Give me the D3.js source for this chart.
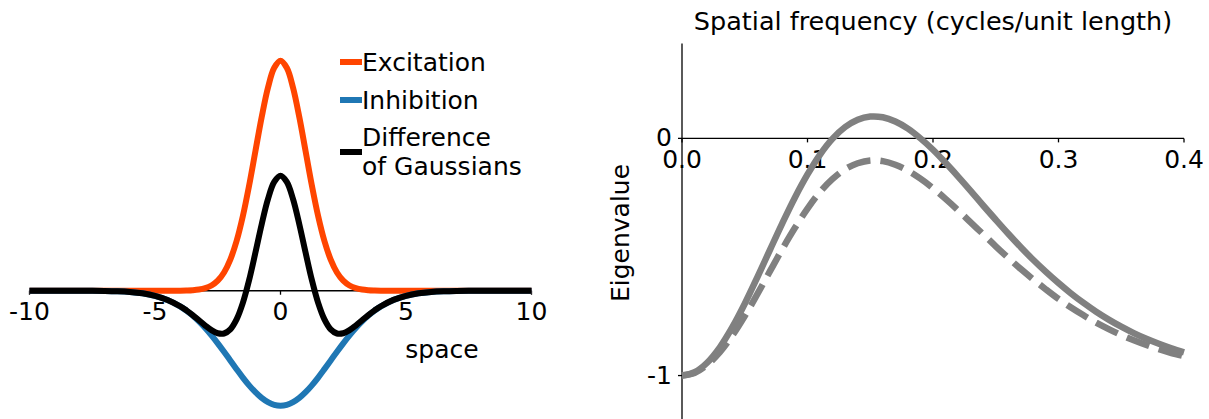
<!DOCTYPE html>
<html>
<head>
<meta charset="utf-8">
<script src="https://cdn.jsdelivr.net/npm/d3@7"></script>
<style>
  body { margin: 0; background: #fff; }
  svg { display: block; font-family: "DejaVu Sans", sans-serif; }
</style>
</head>
<body>
<script>
// left panel: sampled gaussians along "space"
const space = [-10,-9.5,-9,-8.5,-8,-7.5,-7,-6.5,-6,-5.5,-5,-4.5,
  -4,-3.75,-3.5,-3.25,-3,-2.75,-2.5,-2.25,-2,-1.75,-1.5,-1.25,-1,-0.75,-0.5,-0.25,
  0,0.25,0.5,0.75,1,1.25,1.5,1.75,2,2.25,2.5,2.75,3,3.25,3.5,3.75,4,
  4.5,5,5.5,6,6.5,7,7.5,8,8.5,9,9.5,10]
const excitation = [0,0,0,0,0,0,0,0,0,0,0,0,
  0.0001,0.0004,0.0009,0.0020,0.0044,0.0091,0.0175,0.0317,0.0540,0.0863,0.1295,0.1826,0.2420,0.3011,0.3521,0.3866,
  0.3989,0.3866,0.3521,0.3011,0.2420,0.1826,0.1295,0.0863,0.0540,0.0317,0.0175,0.0091,0.0044,0.0020,0.0009,0.0004,0.0001,
  0,0,0,0,0,0,0,0,0,0,0,0]
const inhibition = [0,0,0,0,-0.0001,-0.0002,-0.0004,-0.0010,-0.0022,-0.0045,-0.0088,-0.0159,
  -0.0270,-0.0344,-0.0431,-0.0533,-0.0648,-0.0775,-0.0913,-0.1059,-0.1210,-0.1360,-0.1506,-0.1641,-0.1760,-0.1859,-0.1933,-0.1979,
  -0.1995,-0.1979,-0.1933,-0.1859,-0.1760,-0.1641,-0.1506,-0.1360,-0.1210,-0.1059,-0.0913,-0.0775,-0.0648,-0.0533,-0.0431,-0.0344,-0.0270,
  -0.0159,-0.0088,-0.0045,-0.0022,-0.0010,-0.0004,-0.0002,-0.0001,0,0,0,0]
const dog = [0,0,0,0,-0.0001,-0.0002,-0.0004,-0.0010,-0.0022,-0.0045,-0.0088,-0.0159,
  -0.0269,-0.0340,-0.0422,-0.0513,-0.0604,-0.0684,-0.0738,-0.0742,-0.0670,-0.0497,-0.0211,0.0185,0.0660,0.1152,0.1588,0.1887,
  0.1994,0.1887,0.1588,0.1152,0.0660,0.0185,-0.0211,-0.0497,-0.0670,-0.0742,-0.0738,-0.0684,-0.0604,-0.0513,-0.0422,-0.0340,-0.0269,
  -0.0159,-0.0088,-0.0045,-0.0022,-0.0010,-0.0004,-0.0002,-0.0001,0,0,0,0]
const spaceTicks = [-10,-5,0,5,10]
const legendLabels = [["Excitation"],["Inhibition"],["Difference","of Gaussians"]]

// right panel: eigenvalue vs spatial frequency
const freq = [0,0.01,0.02,0.03,0.04,0.05,0.06,0.07,0.08,0.09,0.10,0.11,0.12,0.13,0.14,0.15,0.16,0.17,0.18,0.19,0.20,
  0.21,0.22,0.23,0.24,0.25,0.26,0.27,0.28,0.29,0.30,0.31,0.32,0.33,0.34,0.35,0.36,0.37,0.38,0.39,0.40]
const eigSolid = [-1.000,-0.986,-0.946,-0.882,-0.797,-0.697,-0.586,-0.471,-0.357,-0.249,-0.152,-0.068,-0.001,0.048,0.079,0.092,0.089,0.071,0.041,0.000,-0.048,
  -0.103,-0.161,-0.221,-0.283,-0.343,-0.402,-0.459,-0.513,-0.563,-0.610,-0.654,-0.694,-0.731,-0.764,-0.794,-0.821,-0.845,-0.866,-0.885,-0.902]
const eigDashed = [-1.000,-0.989,-0.955,-0.902,-0.832,-0.749,-0.657,-0.561,-0.466,-0.377,-0.296,-0.226,-0.171,-0.130,-0.105,-0.093,-0.096,-0.111,-0.136,-0.170,-0.210,
  -0.255,-0.303,-0.354,-0.404,-0.455,-0.504,-0.551,-0.595,-0.637,-0.677,-0.713,-0.746,-0.777,-0.804,-0.829,-0.851,-0.871,-0.889,-0.905,-0.918]
const freqTicks = [0,0.1,0.2,0.3,0.4]
const eigTicks = [-1,0]

const width = 1209
const height = 419
const axTop = 43.5
const axBottom = 423
const fontSize = 25
const colors = ["#ff4500","#1f77b4","#000000"]

const svg = d3.select("body").append("svg")
  .attr("width", width)
  .attr("height", height)

// ---------- left panel ----------
const allLeft = excitation.concat(inhibition, dog)
const lMin = d3.min(allLeft), lMax = d3.max(allLeft)
const lPad = (lMax - lMin) * 0.05
const xLeft = d3.scaleLinear().domain([-10,10]).range([29.5,531.5])
const yLeft = d3.scaleLinear().domain([lMin - lPad, lMax + lPad]).range([axBottom, axTop])

const leftLine = series => d3.line()
  .x((d,i)=>xLeft(space[i]))
  .y(d=>yLeft(d))
  .curve(d3.curveCatmullRom)(series)

const xAxisLeft = d3.axisBottom(xLeft).tickValues(spaceTicks)
  .tickFormat(d=>String(d)).tickSize(4).tickPadding(7.5).offset(0)

svg.append("g")
  .attr("transform","translate(0,"+yLeft(0)+")")
  .call(xAxisLeft)

// spine
svg.append("line")
  .attr("class","spine")
  .attr("x1",xLeft(-10)).attr("x2",xLeft(10))
  .attr("y1",yLeft(0)).attr("y2",yLeft(0))

;[excitation, inhibition, dog].forEach((s,i)=>{
  svg.append("path")
    .attr("d", leftLine(s))
    .attr("fill","none")
    .attr("stroke", colors[i])
    .attr("stroke-width", 6)
})

svg.append("text")
  .attr("x", 442).attr("y", 358)
  .attr("text-anchor","middle")
  .style("font-size", fontSize+"px")
  .text("space")

// legend
const legendY = [62, 100, 152]
legendLabels.forEach((lab,i)=>{
  svg.append("line")
    .attr("x1",340).attr("x2",362)
    .attr("y1",legendY[i]).attr("y2",legendY[i])
    .attr("stroke",colors[i]).attr("stroke-width",6)
  const t = svg.append("text")
    .attr("x",362)
    .attr("y",legendY[i] - (lab.length-1)*14.5)
    .style("font-size",fontSize+"px")
  lab.forEach((l,j)=>{
    t.append("tspan").attr("x",362).attr("dy", j===0 ? "0.35em" : "1.16em").text(l)
  })
})

// ---------- right panel ----------
const xRight = d3.scaleLinear().domain([0,0.4]).range([682,1184])
const yRight = d3.scaleLinear().domain([-1.2,0.4]).range([axBottom, axTop])

const xAxisRight = d3.axisBottom(xRight).tickValues(freqTicks)
  .tickFormat(d3.format(".1f")).tickSize(4).tickPadding(7.5).offset(0)
const yAxisRight = d3.axisLeft(yRight).tickValues(eigTicks)
  .tickFormat(d=>String(d)).tickSize(4).tickPadding(6).offset(0)

svg.append("g")
  .attr("transform","translate("+xRight(0)+",0)")
  .call(yAxisRight)
svg.append("g")
  .attr("transform","translate(0,"+yRight(0)+")")
  .call(xAxisRight)

svg.append("line")
  .attr("class","spine")
  .attr("x1",xRight(0)).attr("x2",xRight(0))
  .attr("y1",yRight(0.4)).attr("y2",yRight(-1.2))
svg.append("line")
  .attr("class","spine")
  .attr("x1",xRight(0)).attr("x2",xRight(0.4))
  .attr("y1",yRight(0)).attr("y2",yRight(0))

const rightLine = d3.line()
  .x((d,i)=>xRight(freq[i]))
  .y(d=>yRight(d))
  .curve(d3.curveCatmullRom)

svg.append("path")
  .attr("d", rightLine(eigSolid))
  .attr("fill","none").attr("stroke","#808080").attr("stroke-width",6.5)
svg.append("path")
  .attr("d", rightLine(eigDashed))
  .attr("fill","none").attr("stroke","#808080").attr("stroke-width",6.5)
  .attr("stroke-dasharray","24,10")

svg.append("text")
  .attr("x", 933).attr("y", 30)
  .attr("text-anchor","middle")
  .style("font-size", (fontSize+0.5)+"px")
  .text("Spatial frequency (cycles/unit length)")

svg.append("text")
  .attr("transform","translate(629,233) rotate(-90)")
  .attr("text-anchor","middle")
  .style("font-size", fontSize+"px")
  .text("Eigenvalue")

// axis styling like matplotlib
svg.selectAll(".domain").remove()
svg.selectAll(".spine").attr("stroke","#000").attr("stroke-width",1.3)
svg.selectAll(".tick line").attr("stroke","#000").attr("stroke-width",1.3)
svg.selectAll(".tick text")
  .style("font-size",fontSize+"px")
  .style("font-family","DejaVu Sans")
  .attr("fill","#000")
</script>
</body>
</html>
